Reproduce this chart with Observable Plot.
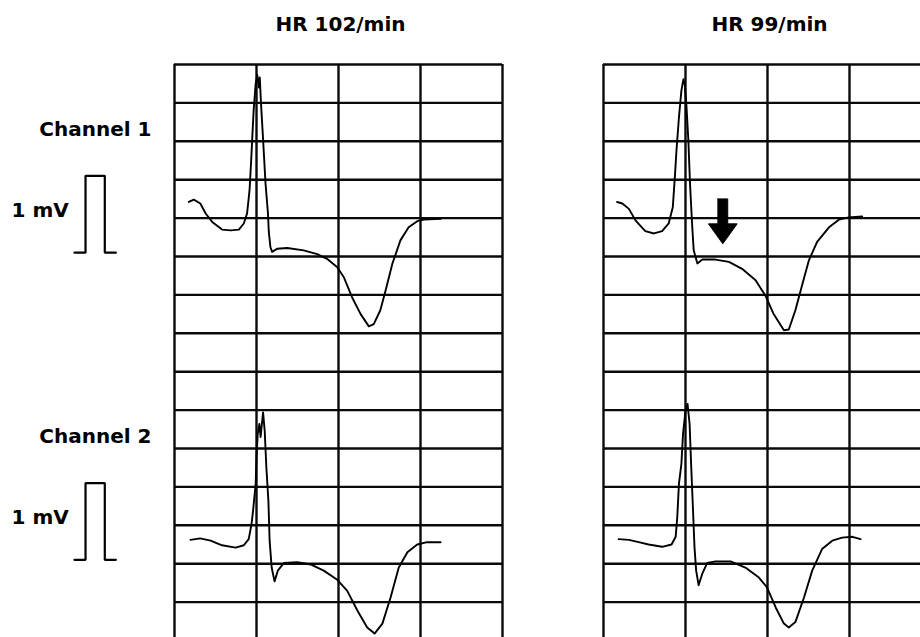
<!DOCTYPE html>
<html><head><meta charset="utf-8">
<script src="https://cdn.jsdelivr.net/npm/d3@7"></script>
<script src="https://cdn.jsdelivr.net/npm/@observablehq/plot@0.6"></script>
<style>
html,body{margin:0;padding:0;background:#fff;overflow:hidden}
#wrap{width:920px;height:637px;overflow:hidden;position:relative}
#wrap svg{max-width:none !important;display:block}
</style>
</head><body><div id="wrap"></div>
<script>
// ---- data ----
const panels = ["HR 102/min", "HR 99/min"];
const channels = ["Channel 1", "Channel 2"];
const calLabel = "1 mV";
// time (ms from panel start), amplitude (mV, relative to channel baseline)
const ch1_hr102 = [[35,0.71],[47,0.74],[63,0.69],[76,0.56],[92,0.45],[116,0.35],[137,0.34],[157,0.35],[169,0.43],[177,0.56],[183,0.86],[187,1.25],[190,1.58],[193,1.90],[198,2.25],[202,2.36],[206,2.20],[208,2.33],[211,1.99],[216,1.53],[222,0.95],[228,0.56],[230,0.32],[234,0.12],[238,0.06],[250,0.10],[275,0.11],[315,0.08],[348,0.03],[372,-0.03],[397,-0.14],[413,-0.27],[433,-0.53],[454,-0.75],[474,-0.91],[486,-0.88],[502,-0.70],[515,-0.44],[531,-0.10],[551,0.21],[571,0.38],[592,0.46],[608,0.48],[649,0.49]];
const ch2_hr102 = [[39,0.31],[63,0.33],[88,0.30],[116,0.24],[149,0.21],[169,0.24],[181,0.32],[188,0.52],[192,0.71],[198,1.04],[200,1.39],[203,1.69],[207,1.82],[210,1.65],[216,1.97],[220,1.73],[224,1.26],[229,0.82],[232,0.30],[237,-0.05],[244,-0.23],[252,-0.09],[267,0.01],[299,0.02],[332,-0.01],[364,-0.09],[397,-0.21],[421,-0.35],[446,-0.61],[470,-0.83],[488,-0.91],[507,-0.78],[527,-0.44],[547,-0.05],[568,0.15],[592,0.25],[616,0.28],[649,0.28]];
const ch1_hr99 = [[33,0.71],[46,0.69],[62,0.62],[78,0.47],[102,0.33],[123,0.30],[143,0.33],[159,0.43],[169,0.64],[174,1.03],[178,1.38],[184,1.81],[190,2.16],[195,2.31],[198,2.25],[202,1.99],[207,1.51],[211,0.95],[216,0.43],[220,0.08],[229,-0.09],[241,-0.04],[273,-0.04],[306,-0.07],[338,-0.16],[371,-0.31],[395,-0.51],[415,-0.75],[440,-0.96],[452,-0.95],[468,-0.70],[485,-0.36],[501,-0.05],[521,0.19],[550,0.38],[574,0.48],[598,0.51],[631,0.52]];
const ch2_hr99 = [[37,0.32],[62,0.31],[86,0.28],[110,0.25],[143,0.22],[166,0.25],[176,0.35],[180,0.61],[184,1.04],[190,1.30],[194,1.69],[200,1.99],[205,2.08],[210,1.82],[214,1.26],[218,0.74],[222,0.21],[226,-0.09],[232,-0.28],[241,-0.13],[253,0.01],[273,0.03],[310,0.03],[346,-0.05],[379,-0.18],[399,-0.31],[420,-0.57],[440,-0.78],[452,-0.83],[468,-0.76],[489,-0.44],[509,-0.09],[533,0.19],[558,0.30],[582,0.34],[607,0.35],[627,0.32]];
// 1 mV calibration pulse (ms, mV)
const calPulse_t = [-244, -217, -217, -170, -170, -143];
const calPulse_mV = [0, 0, 1, 1, 0, 0];
// grid: 200 ms x 0.5 mV
const gridT = [0, 200, 400, 600, 800];
const gridMV = d3.range(0.5, 7.51, 0.5);
// ST-segment marker (panel, channel, time ms, top mV, tip mV)
const arrowNote = {panel: "HR 99/min", channel: 0, t: 291, top: 0.75, tip: 0.165};

// ---- layout helpers (not data) ----
const CH_BASE = [5.0, 1.0];      // vertical position of each channel's baseline on the strip
const traces = [];
[[0, 0, ch1_hr102], [0, 1, ch2_hr102], [1, 0, ch1_hr99], [1, 1, ch2_hr99]].forEach(([p, c, pts]) =>
  pts.forEach(([t, mv]) => traces.push({panel: panels[p], key: p + "-" + c, t, y: mv + CH_BASE[c]})));

const pulses = [];
channels.forEach((ch, c) => calPulse_t.forEach((t, i) =>
  pulses.push({panel: panels[0], key: ch, t, y: calPulse_mV[i] + CH_BASE[c] + 0.05})));

const chLabels = channels.map((ch, c) => ({panel: panels[0], text: ch, y: CH_BASE[c] + 1.57}));
const calLabels = channels.map((ch, c) => ({panel: panels[0], text: calLabel, y: CH_BASE[c] + 0.6}));

const a = arrowNote, sh = 12, hh = 35, hl = 0.26, ab = CH_BASE[a.channel];
const arrowPoly = [[a.t - sh, a.top], [a.t + sh, a.top], [a.t + sh, a.tip + hl], [a.t + hh, a.tip + hl],
  [a.t, a.tip], [a.t - hh, a.tip + hl], [a.t - sh, a.tip + hl], [a.t - sh, a.top]]
  .map(([t, y]) => ({panel: a.panel, t, y: y + ab}));

const font = "DejaVu Sans, Arial, sans-serif";
const plot = Plot.plot({
  width: 932, height: 640,
  marginLeft: 174, marginRight: 1, marginTop: 64, marginBottom: 0,
  style: {maxWidth: "none", background: "#fff", color: "#000"},
  fx: {domain: panels, paddingInner: 0.2354, paddingOuter: 0, axis: null, round: false},
  x: {domain: [0, 800], axis: null},
  y: {domain: [0, 7.5], axis: null},
  marks: [
    Plot.ruleY(gridMV, {stroke: "#0a0a0a", strokeWidth: 2.4}),
    Plot.ruleX(gridT, {stroke: "#0a0a0a", strokeWidth: 2.4}),
    Plot.line(traces, {fx: "panel", x: "t", y: "y", z: "key", stroke: "#000", strokeWidth: 1.9, strokeLinejoin: "round"}),
    Plot.line(pulses, {fx: "panel", x: "t", y: "y", z: "key", stroke: "#000", strokeWidth: 2.2, strokeLinejoin: "miter"}),
    Plot.line(arrowPoly, {fx: "panel", x: "t", y: "y", fill: "#000", stroke: "#000", strokeWidth: 1}),
    Plot.text(panels, {fx: d => d, text: d => d, frameAnchor: "top", lineAnchor: "bottom", dy: -34, dx: 2,
      fontSize: 20, fontWeight: "bold", fontFamily: font, fill: "#000"}),
    Plot.text(chLabels, {fx: "panel", x: () => -56, y: "y", text: "text", textAnchor: "end", lineAnchor: "bottom",
      fontSize: 20, fontWeight: "bold", fontFamily: font, fill: "#000"}),
    Plot.text(calLabels, {fx: "panel", x: () => -258, y: "y", text: "text", textAnchor: "end", lineAnchor: "middle",
      fontSize: 20, fontWeight: "bold", fontFamily: font, fill: "#000"})
  ]
});
document.getElementById("wrap").appendChild(plot);
</script>
</body></html>
